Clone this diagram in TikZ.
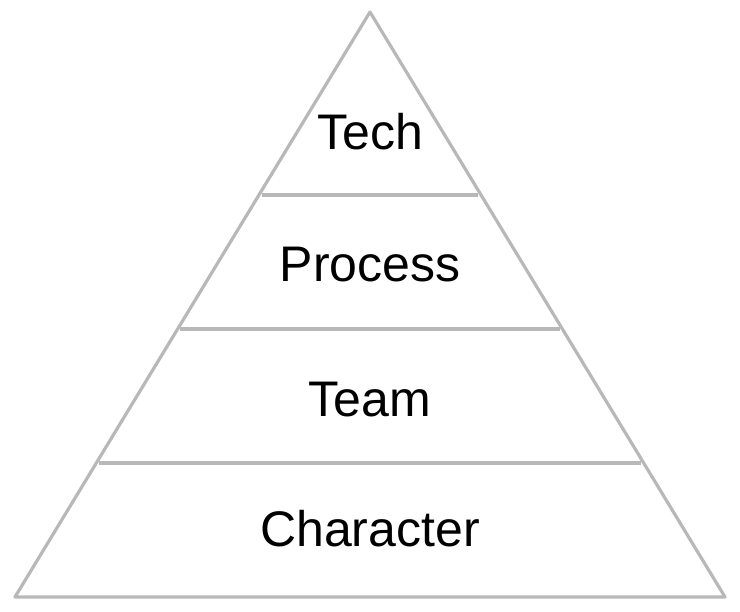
\documentclass[tikz,border=0pt]{standalone}
\usepackage{fontspec}
\setmainfont{Liberation Sans}
\usepackage{tikz}
\usetikzlibrary{positioning}
\tikzset{
  edge/.style  = {draw=black!28, line width=3.2pt, line join=round},
  layer/.style = {font=\fontsize{50}{58}\selectfont, text=black}
}

\begin{document}
\begin{tikzpicture}
  [
    x = 1pt,
    y = -1pt
  ]
  \useasboundingbox (0,0) rectangle (740,612);
  % outline
  \coordinate (apex)  at (370,12);
  \coordinate (baseL) at (15,597);
  \coordinate (baseR) at (725,597);
  \draw [edge] (apex) -- (baseR) -- (baseL) -- cycle;
  % separators
  \coordinate (s1L) at (262,195);
  \coordinate (s1R) at (478,195);
  \coordinate (s2L) at (180,329);
  \coordinate (s2R) at (560,329);
  \coordinate (s3L) at (99,463);
  \coordinate (s3R) at (641,463);
  \draw [edge] (s1L) -- (s1R);
  \draw [edge] (s2L) -- (s2R);
  \draw [edge] (s3L) -- (s3R);
  % labels
  \node [layer] (tech)      at (370,132) {Tech};
  \node [layer] (process)   at (370,265) {Process};
  \node [layer] (team)      at (370,400) {Team};
  \node [layer] (character) at (370,529) {Character};
\end{tikzpicture}
\end{document}
